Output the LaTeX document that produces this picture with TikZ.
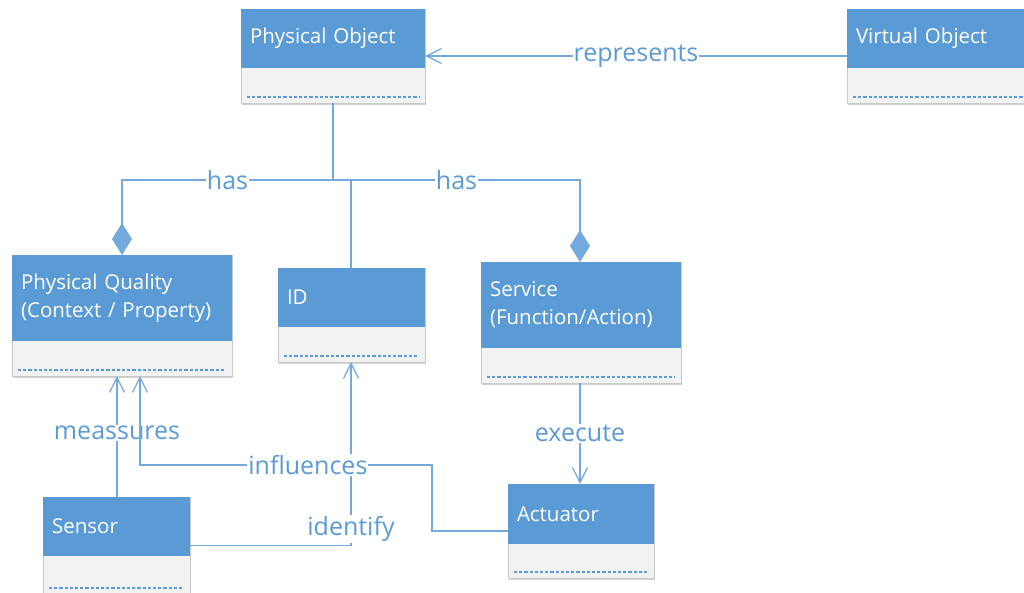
\documentclass[tikz,border=0pt]{standalone}
\usepackage{fontspec}
\setmainfont{Open Sans}
\usetikzlibrary{arrows.meta,calc,shadows}

\definecolor{headblue}{HTML}{5B9BD5}
\definecolor{bodygray}{HTML}{F2F2F2}
\definecolor{edgegray}{HTML}{C9C9C9}
\definecolor{linkblue}{HTML}{74A9DE}
\definecolor{textblue}{HTML}{5B9BD5}

\tikzset{
  classbody/.style={draw=edgegray, line width=0.8pt, fill=bodygray,
    inner sep=0pt, outer sep=0pt, anchor=north west,
    drop shadow={shadow xshift=1.2pt, shadow yshift=-1.5pt, opacity=0.18, fill=black}},
  classhead/.style={fill=headblue, inner xsep=9pt, inner ysep=0pt, outer sep=0pt,
    anchor=north west, align=left, text=white,
    font=\fontsize{20.5}{28}\selectfont},
  attrline/.style={draw=headblue, line width=2pt, dash pattern=on 3.2pt off 2pt},
  conn/.style={draw=linkblue, line width=1.3pt},
  openarrow/.style={-{Straight Barb[length=15pt,width=15pt,line width=1.3pt]}},
  diamondend/.style={-{Diamond[length=32pt,width=20pt]}},
  lbl/.style={fill=white, inner xsep=1pt, inner ysep=1pt, text=textblue,
    font=\fontsize{25}{28}\selectfont},
}

% \umlclass{name}{left}{top}{right}{header bottom}{bottom}{title}
\newcommand{\umlclass}[7]{%
  \node[classbody, minimum width={#4-#2}, minimum height={#6-#3}] (#1) at (#2,#3) {};
  \node[classhead, text width={#4-#2-18}, minimum height={#5-#3}] (#1-h) at (#2,#3) {#7};
  \draw[attrline] ($(#1.south west)+(6,-6.5)$) -- ($(#1.south east)+(-6,-6.5)$);
}

\begin{document}
\begin{tikzpicture}[x=1pt, y=-1pt]
  \useasboundingbox (0,0) rectangle (1024,592);

  % classes
  \umlclass{po}{241}{9}{425}{68}{103}{Physical Object}
  \umlclass{vo}{847}{9}{1040}{68}{103}{Virtual Object}
  \umlclass{pq}{12}{255}{232}{341}{376}{Physical Quality\\(Context / Property)}
  \umlclass{id}{278}{268}{425}{327}{362}{ID}
  \umlclass{sv}{481}{262}{681}{348}{383}{Service\\(Function/Action)}
  \umlclass{sn}{43}{497}{190}{556}{594}{Sensor}
  \umlclass{ac}{508}{484}{654}{544}{578}{Actuator}

  % routing guides
  \coordinate (xpo) at (333,0);
  \coordinate (xid) at (351,0);
  \coordinate (xpq) at (122,0);
  \coordinate (xsv) at (580,0);
  \coordinate (xms) at (117,0);
  \coordinate (xin) at (140,0);
  \coordinate (xbend) at (432,0);
  \coordinate (yhas) at (0,180);
  \coordinate (yinf) at (0,465);

  % associations
  \draw[conn, openarrow] (vo.west) -- node[lbl]{represents} (po.east);

  \draw[conn] (po.south -| xpo) -- (xpo |- yhas) -- (xid |- yhas) -- (id.north -| xid);
  \draw[conn, diamondend] (po.south -| xpo) -- (xpo |- yhas)
    -- node[lbl]{has} (xpq |- yhas) -- (pq.north -| xpq);
  \draw[conn, diamondend] (po.south -| xpo) -- (xpo |- yhas)
    -- node[lbl]{has} (xsv |- yhas) -- (sv.north -| xsv);

  \draw[conn, openarrow] (sv.south -| xsv) -- node[lbl]{execute} (ac.north -| xsv);

  \draw[conn, openarrow] (sn.north -| xms) -- node[lbl, pos=0.53]{meassures} (pq.south -| xms);

  \draw[conn, openarrow] (sn.east) -- (sn.east -| xid)
    -- node[lbl, pos=0.09]{identify} (id.south -| xid);

  \draw[conn, openarrow] (ac.west) -- (ac.west -| xbend) -- (xbend |- yinf)
    -- node[lbl, pos=0.425]{influences} (xin |- yinf) -- (pq.south -| xin);
\end{tikzpicture}
\end{document}
